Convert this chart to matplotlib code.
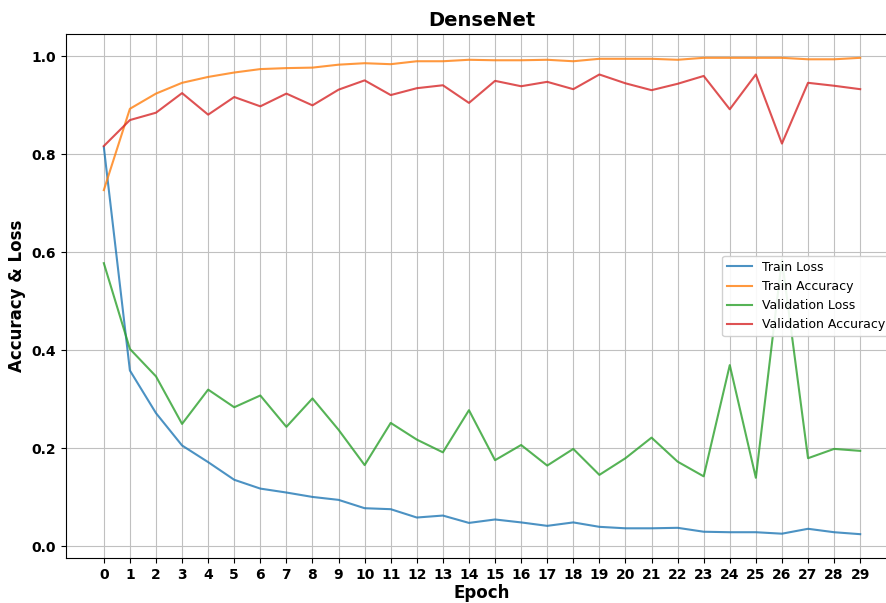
import matplotlib
matplotlib.use("Agg")
import matplotlib.pyplot as plt

epochs = list(range(30))

train_loss = [0.815, 0.359, 0.272, 0.206, 0.172, 0.136, 0.118, 0.110, 0.101, 0.095,
              0.078, 0.076, 0.059, 0.063, 0.048, 0.055, 0.049, 0.042, 0.049, 0.040,
              0.037, 0.037, 0.038, 0.030, 0.029, 0.029, 0.026, 0.036, 0.029, 0.025]
train_acc = [0.727, 0.893, 0.924, 0.946, 0.958, 0.967, 0.974, 0.976, 0.977, 0.983,
             0.986, 0.984, 0.990, 0.990, 0.993, 0.992, 0.992, 0.993, 0.990, 0.995,
             0.995, 0.995, 0.993, 0.997, 0.997, 0.997, 0.997, 0.994, 0.994, 0.997]
val_loss = [0.578, 0.403, 0.347, 0.250, 0.320, 0.284, 0.308, 0.244, 0.302, 0.238,
            0.166, 0.252, 0.218, 0.192, 0.278, 0.176, 0.207, 0.165, 0.199, 0.146,
            0.180, 0.222, 0.173, 0.143, 0.370, 0.140, 0.585, 0.180, 0.199, 0.195]
val_acc = [0.817, 0.870, 0.885, 0.925, 0.881, 0.917, 0.898, 0.924, 0.900, 0.932,
           0.951, 0.921, 0.935, 0.941, 0.905, 0.950, 0.939, 0.948, 0.933, 0.963,
           0.945, 0.931, 0.944, 0.960, 0.892, 0.963, 0.822, 0.946, 0.940, 0.933]

fig = plt.figure(figsize=(8.86, 6.03), dpi=100)
# axes runs past the right edge, the original picture was cropped there
ax = fig.add_axes([66 / 886, 45 / 603, 832 / 886, 524 / 603])

ax.plot(epochs, train_loss, label="Train Loss", alpha=0.8)
ax.plot(epochs, train_acc, label="Train Accuracy", alpha=0.8)
ax.plot(epochs, val_loss, label="Validation Loss", alpha=0.8)
ax.plot(epochs, val_acc, label="Validation Accuracy", alpha=0.8)

ax.set_title("DenseNet", fontsize=14, fontweight="bold")
ax.set_xlabel("Epoch", fontsize=12, fontweight="bold", labelpad=2)
ax.set_ylabel("Accuracy & Loss", fontsize=12, fontweight="bold")
ax.set_xticks(epochs)
for lbl in ax.get_xticklabels() + ax.get_yticklabels():
    lbl.set_fontweight("bold")
ax.grid(True, color="#c0c0c0")
ax.legend(loc="center left", bbox_to_anchor=(0.781, 0.5), fontsize=9, framealpha=0.9)

fig.savefig("out.png", dpi=100)
